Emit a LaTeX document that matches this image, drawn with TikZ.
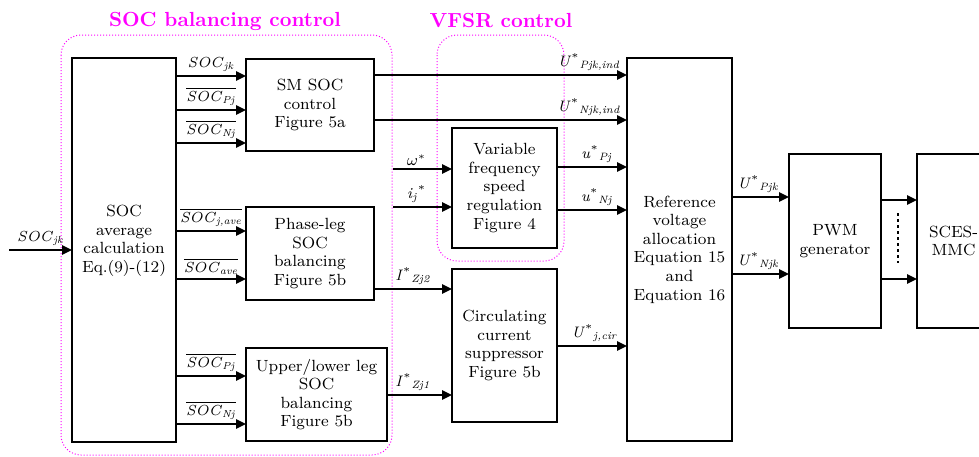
\documentclass[tikz,border=0pt]{standalone}
\usetikzlibrary{
  arrows.meta,
  positioning,
  calc
}

\definecolor{grpmag}{RGB}{255,0,255}
\newcommand{\soc}[1]{\textit{SOC}\textsubscript{\textit{#1}}}
\newcommand{\socbar}[1]{$\overline{\mbox{\textit{SOC}\textsubscript{\textit{#1}}}}$}
\newcommand{\ustar}[2]{\textit{#1}\textsuperscript{*}\textsubscript{\textit{#2}}}

\begin{document}
\begin{tikzpicture}[x=0.5pt,y=-0.5pt,
  blk/.style={draw, line width=1pt, inner sep=0pt, outer sep=0pt},
  txt/.style={align=center, inner sep=0pt, font=\fontsize{8.1}{9.3}\selectfont},
  sig/.style={line width=1pt, -{Triangle[length=5pt,width=4.6pt]}},
  lbl/.style={inner sep=1.5pt, font=\fontsize{7.3}{8}\selectfont},
  ulbl/.style={inner sep=1.5pt, font=\fontsize{7.6}{9}\selectfont},
  grp/.style={draw=grpmag, densely dotted, line width=0.5pt, rounded corners=10pt},
  ttl/.style={text=grpmag, font=\fontsize{10.2}{12}\selectfont\bfseries}]

\clip (0,0) rectangle (979,456);

% Dotted groups and their titles
\draw[grp] (61,35) rectangle (392,455);
\draw[grp] (437,35) rectangle (564,261);
\node[ttl] (socttl) at (225,21) {SOC balancing control};
\node[ttl] (vfsrttl) at (501,20) {VFSR control};

% Blocks
\node[blk, minimum width=52pt, minimum height=192pt] (avg) at (124,250) {};
\node[txt] (avgtxt) at (124,241) {SOC\\average\\calculation\\Eq.(9)-(12)};
\node[blk, txt, minimum width=64pt, minimum height=46pt] (smsoc) at (310,105)
  {SM SOC\\control\\Figure 5a};
\node[blk, txt, minimum width=64pt, minimum height=46.5pt] (phase) at (310,253.5)
  {Phase-leg\\SOC\\balancing\\Figure 5b};
\node[blk, txt, minimum width=70.5pt, minimum height=46.5pt] (updown) at (316.5,394.5)
  {Upper/lower leg\\SOC\\balancing\\Figure 5b};
\node[blk, txt, minimum width=52.5pt, minimum height=60pt] (vfsr) at (504.5,188)
  {Variable\\frequency\\speed\\regulation\\Figure 4};
\node[blk, txt, minimum width=52.5pt, minimum height=76.5pt] (circ) at (504.5,345.5)
  {Circulating\\current\\suppressor\\Figure 5b};
\node[blk, txt, minimum width=52.5pt, minimum height=191.5pt] (ref) at (679.5,249.5)
  {Reference\\voltage\\allocation\\Equation 15\\and\\Equation 16};
\node[blk, txt, minimum width=46pt, minimum height=87pt] (pwm) at (835,241)
  {PWM\\generator};
\node[blk, txt, minimum width=36.5pt, minimum height=87pt] (mmc) at (953.5,241)
  {SCES-\\MMC};

% Input
\coordinate (in) at (9,250);
\draw[sig] (in) -- node[lbl, above] {\soc{jk}} (avg.west |- in);

% SOC average outputs
\draw[sig] (avg.east |- 0,76) -- node[lbl, above] {\soc{jk}} (smsoc.west |- 0,76);
\draw[sig] (avg.east |- 0,110) -- node[lbl, above] {\socbar{Pj}} (smsoc.west |- 0,110);
\draw[sig] (avg.east |- 0,143) -- node[lbl, above] {\socbar{Nj}} (smsoc.west |- 0,143);
\draw[sig] (avg.east |- 0,231) -- node[lbl, above] {\socbar{j,ave}} (phase.west |- 0,231);
\draw[sig] (avg.east |- 0,279) -- node[lbl, above] {\socbar{ave}} (phase.west |- 0,279);
\draw[sig] (avg.east |- 0,376) -- node[lbl, above] {\socbar{Pj}} (updown.west |- 0,376);
\draw[sig] (avg.east |- 0,424) -- node[lbl, above] {\socbar{Nj}} (updown.west |- 0,424);

% To the reference voltage allocation
\draw[sig] (smsoc.east |- 0,75) -- node[ulbl, above, pos=0.85] {\ustar{U}{Pjk,ind}} (ref.west |- 0,75);
\draw[sig] (smsoc.east |- 0,120) -- node[ulbl, above, pos=0.85] {\ustar{U}{Njk,ind}} (ref.west |- 0,120);

% VFSR
\coordinate (win) at (393,169);
\coordinate (iin) at (393,207);
\draw[sig] (win) -- node[ulbl, above, pos=0.4] {$\omega^{*}$} (vfsr.west |- win);
\draw[sig] (iin) -- node[ulbl, above, pos=0.4]
  {\textit{i}\textsubscript{\textit{j}}\textsuperscript{*}} (vfsr.west |- iin);
\draw[sig] (vfsr.east |- 0,167) -- node[ulbl, above, pos=0.57] {\ustar{u}{Pj}} (ref.west |- 0,167);
\draw[sig] (vfsr.east |- 0,210) -- node[ulbl, above, pos=0.57] {\ustar{u}{Nj}} (ref.west |- 0,210);

% Circulating current
\draw[sig] (phase.east |- 0,289) -- node[ulbl, above] {\ustar{I}{Zj2}} (circ.west |- 0,289);
\draw[sig] (updown.east |- 0,395) -- node[ulbl, above, pos=0.4] {\ustar{I}{Zj1}} (circ.west |- 0,395);
\draw[sig] (circ.east |- 0,346) -- node[ulbl, above, pos=0.54] {\ustar{U}{j,cir}} (ref.west |- 0,346);

% PWM and converter
\draw[sig] (ref.east |- 0,197) -- node[ulbl, above, pos=0.46] {\ustar{U}{Pjk}} (pwm.west |- 0,197);
\draw[sig] (ref.east |- 0,274) -- node[ulbl, above, pos=0.46] {\ustar{U}{Njk}} (pwm.west |- 0,274);
\draw[sig] (pwm.east |- 0,200) -- (mmc.west |- 0,200);
\draw[sig] (pwm.east |- 0,279) -- (mmc.west |- 0,279);
\draw[line width=1pt, dash pattern=on 1.5pt off 1.5pt] (898,213) -- (898,263);

\end{tikzpicture}
\end{document}
